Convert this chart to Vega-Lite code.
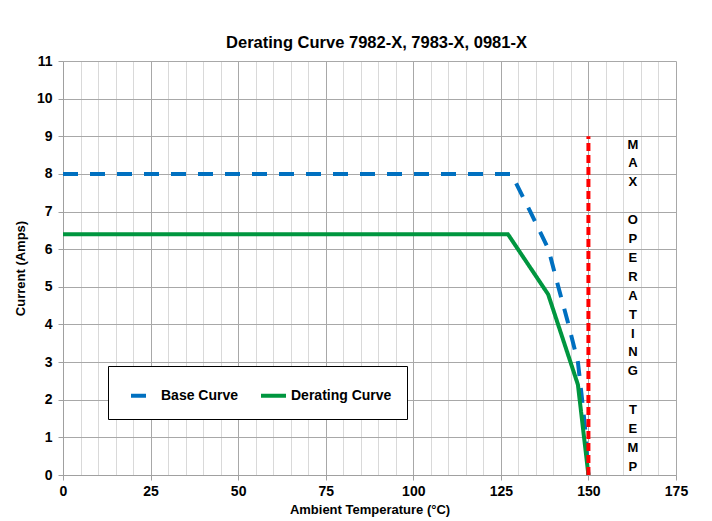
{
  "$schema": "https://vega.github.io/schema/vega-lite/v6.json",
  "autosize": "none",
  "width": 613,
  "height": 414,
  "padding": {"left": 63, "top": 61, "right": 36, "bottom": 46},
  "background": "white",
  "title": {
    "text": "Derating Curve 7982-X, 7983-X, 0981-X",
    "font": "Liberation Sans",
    "fontSize": 16.5,
    "fontWeight": "bold",
    "color": "black",
    "offset": 3,
    "dx": 7
  },
  "config": {
    "view": {"stroke": null},
    "axis": {
      "labelFont": "Liberation Sans",
      "labelFontWeight": "bold",
      "labelFontSize": 14,
      "labelColor": "black",
      "titleFont": "Liberation Sans",
      "titleFontWeight": "bold",
      "titleFontSize": 13,
      "titleColor": "black",
      "domainColor": "#a0a0a0",
      "tickColor": "#a0a0a0"
    }
  },
  "datasets": {
    "curves": [
      {"series": "Base Curve", "temp": 0, "amps": 8},
      {"series": "Base Curve", "temp": 128, "amps": 8},
      {"series": "Base Curve", "temp": 133.4, "amps": 7},
      {"series": "Base Curve", "temp": 138.6, "amps": 6},
      {"series": "Base Curve", "temp": 141.4, "amps": 5},
      {"series": "Base Curve", "temp": 144.3, "amps": 4},
      {"series": "Base Curve", "temp": 147, "amps": 3},
      {"series": "Base Curve", "temp": 148.2, "amps": 2},
      {"series": "Base Curve", "temp": 149, "amps": 1.3},
      {"series": "Base Curve", "temp": 150, "amps": 0},
      {"series": "Derating Curve", "temp": 0, "amps": 6.4},
      {"series": "Derating Curve", "temp": 127, "amps": 6.4},
      {"series": "Derating Curve", "temp": 138.5, "amps": 4.8},
      {"series": "Derating Curve", "temp": 147, "amps": 2.4},
      {"series": "Derating Curve", "temp": 150, "amps": 0}
    ],
    "limit": [
      {"temp": 150, "amps": 0, "amps2": 9}
    ],
    "note": [
      {"temp": 162.7, "amps": 8.78, "letters": ["M", "A", "X"]},
      {"temp": 162.7, "amps": 6.77, "letters": ["O", "P", "E", "R", "A", "T", "I", "N", "G"]},
      {"temp": 162.7, "amps": 1.72, "letters": ["T", "E", "M", "P"]}
    ]
  },
  "encoding": {
    "x": {
      "field": "temp",
      "type": "quantitative",
      "scale": {"domain": [0, 175], "nice": false},
      "axis": {
        "title": "Ambient Temperature (°C)",
        "values": [0,5,10,15,20,25,30,35,40,45,50,55,60,65,70,75,80,85,90,95,100,105,110,115,120,125,130,135,140,145,150,155,160,165,170,175],
        "labelExpr": "datum.value % 25 === 0 ? datum.label : ''",
        "gridColor": {"condition": {"test": "datum.value % 25 === 0", "value": "#a8a8a8"}, "value": "#d9d9d9"},
        "tickSize": {"condition": {"test": "datum.value % 25 === 0", "value": 5}, "value": 0},
        "labelPadding": 4,
        "titlePadding": 5,
        "labelFlush": false
      }
    },
    "y": {
      "field": "amps",
      "type": "quantitative",
      "scale": {"domain": [0, 11], "nice": false},
      "axis": {
        "title": "Current (Amps)",
        "values": [0,1,2,3,4,5,6,7,8,9,10,11],
        "gridColor": "#a8a8a8",
        "tickSize": 5,
        "labelPadding": 6,
        "titlePadding": 9
      }
    }
  },
  "layer": [
    {
      "data": {"name": "curves"},
      "mark": {"type": "line", "strokeWidth": 4},
      "encoding": {
        "color": {
          "field": "series",
          "type": "nominal",
          "scale": {"domain": ["Base Curve", "Derating Curve"], "range": ["#0070c0", "#00963f"]},
          "legend": {
            "title": null,
            "orient": "none",
            "legendX": 45,
            "legendY": 305,
            "direction": "horizontal",
            "strokeColor": "black",
            "fillColor": "white",
            "padding": 15,
            "symbolType": "stroke",
            "symbolSize": 625,
            "symbolStrokeWidth": 4,
            "symbolOffset": 6,
            "labelFont": "Liberation Sans",
            "labelFontWeight": "bold",
            "labelFontSize": 14,
            "labelColor": "black",
            "labelOffset": 3,
            "columnPadding": 14
          }
        },
        "strokeDash": {
          "field": "series",
          "type": "nominal",
          "scale": {"domain": ["Base Curve", "Derating Curve"], "range": [[15, 12], [1, 0]]},
          "legend": null
        }
      }
    },
    {
      "data": {"name": "limit"},
      "mark": {"type": "rule", "color": "#ff0000", "strokeWidth": 4, "strokeDash": [8, 4]},
      "encoding": {
        "y2": {"field": "amps2"}
      }
    },
    {
      "data": {"name": "note"},
      "mark": {
        "type": "text",
        "font": "Liberation Sans",
        "fontWeight": "bold",
        "fontSize": 13,
        "lineHeight": 18.9,
        "align": "center",
        "baseline": "middle",
        "color": "black"
      },
      "encoding": {
        "text": {"field": "letters"}
      }
    }
  ]
}
